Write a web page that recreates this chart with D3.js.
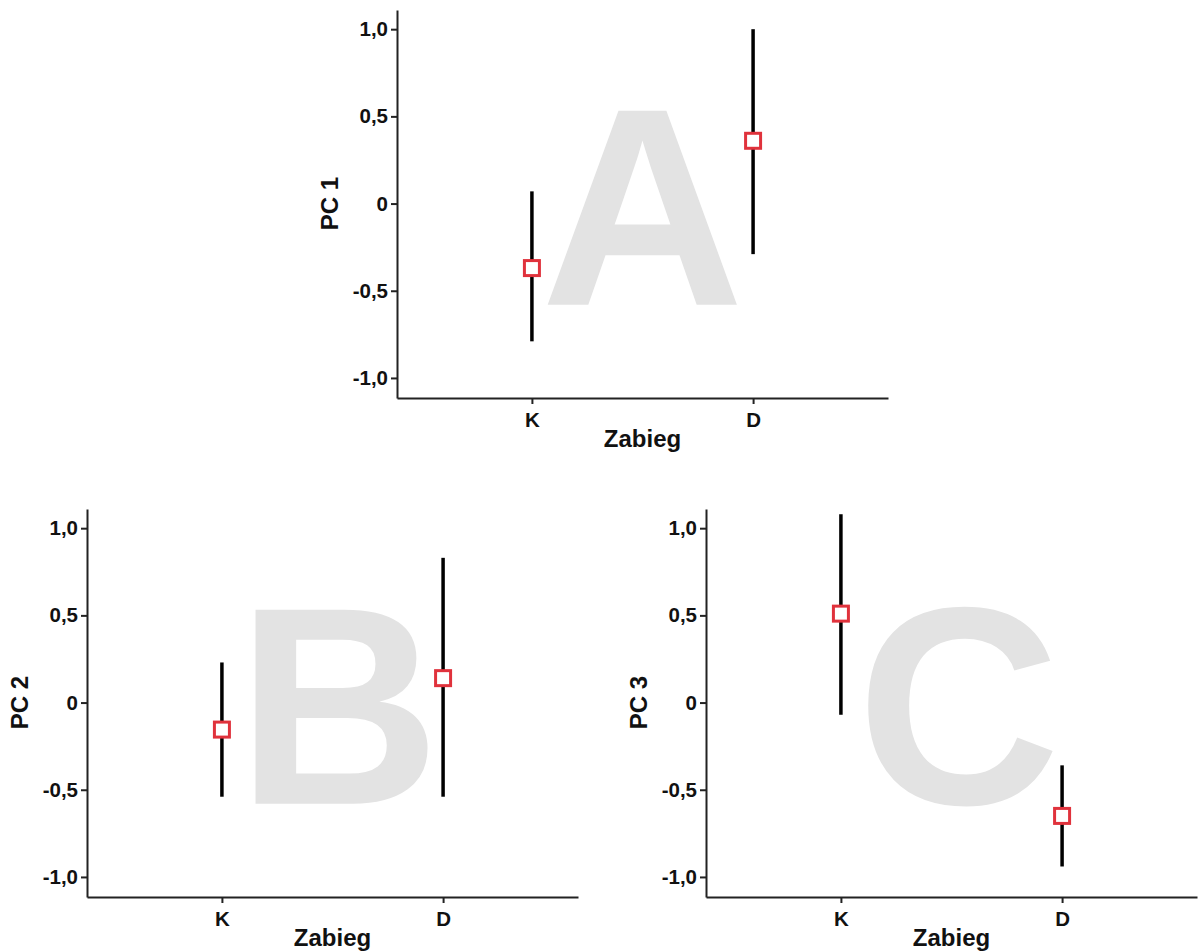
<!DOCTYPE html>
<html lang="pl">
<head>
<meta charset="UTF-8">
<title>PC 1-3 vs Zabieg</title>
<script src="https://d3js.org/d3.v7.min.js"></script>
<style>
    body { margin: 0; padding: 0; background: #fff; }
    svg { display: block; font-family: "Liberation Sans", Arial, sans-serif; }
    .axis path, .axis line { stroke: #222; stroke-width: 2px; }
    .axis text { font-size: 20.5px; font-weight: bold; fill: #111; }
    .ttl { font-size: 24px; font-weight: bold; fill: #111; }
    .letter { font-size: 282px; font-weight: bold; fill: #e3e3e3; }
</style>
</head>
<body>
<svg width="1198" height="951"></svg>
<script>
// dane
const categories = ["K", "D"];
const yTicks = [-1, -0.5, 0, 0.5, 1];

const pc1Mean = [-0.37, 0.36];
const pc1Low  = [-0.79, -0.29];
const pc1High = [0.07, 1.00];

const pc2Mean = [-0.155, 0.14];
const pc2Low  = [-0.54, -0.54];
const pc2High = [0.23, 0.83];

const pc3Mean = [0.51, -0.65];
const pc3Low  = [-0.07, -0.94];
const pc3High = [1.08, -0.36];

const svg = d3.select("svg");
const W = 491, H = 388;

// przecinek dziesietny, zwykly minus
const fmt = d => d === 0 ? "0" : d3.format(".1f")(d).replace(".", ",").replace("\u2212", "-");

function drawPanel(left, top, letter, letterDx, yLabel, mean, low, high) {
    const g = svg.append("g").attr("transform", `translate(${left},${top})`);

    const x = d3.scalePoint().domain(categories).range([0, W]).padding(0.61);
    const y = d3.scaleLinear().domain([-1.115, 1.11]).range([H, 0]);

    // duza litera w tle
    g.append("text")
        .attr("class", "letter")
        .attr("x", W / 2 + letterDx)
        .attr("y", y(-0.58))
        .attr("text-anchor", "middle")
        .text(letter);

    g.append("g")
        .attr("class", "axis")
        .attr("transform", `translate(0,${H})`)
        .call(d3.axisBottom(x).tickSize(6).tickPadding(8).tickSizeOuter(0));

    g.append("g")
        .attr("class", "axis")
        .call(d3.axisLeft(y).tickValues(yTicks).tickFormat(fmt).tickSize(6).tickPadding(3).tickSizeOuter(0));

    const rows = categories.map((c, i) => ({ c, m: mean[i], lo: low[i], hi: high[i] }));

    g.selectAll(".err")
        .data(rows)
        .enter().append("line")
        .attr("class", "err")
        .attr("x1", d => x(d.c)).attr("x2", d => x(d.c))
        .attr("y1", d => y(d.lo)).attr("y2", d => y(d.hi))
        .attr("stroke", "#000")
        .attr("stroke-width", 3.5);

    const s = 15;
    g.selectAll(".mark")
        .data(rows)
        .enter().append("rect")
        .attr("class", "mark")
        .attr("x", d => x(d.c) - s / 2)
        .attr("y", d => y(d.m) - s / 2)
        .attr("width", s).attr("height", s)
        .attr("fill", "#fff")
        .attr("stroke", "#e0323c")
        .attr("stroke-width", 3);

    g.append("text")
        .attr("class", "ttl")
        .attr("x", W / 2)
        .attr("y", H + 49)
        .attr("text-anchor", "middle")
        .text("Zabieg");

    g.append("text")
        .attr("class", "ttl")
        .attr("transform", `translate(-59,${y(0)}) rotate(-90)`)
        .attr("text-anchor", "middle")
        .text(yLabel);
}

drawPanel(397, 10, "A", 0, "PC 1", pc1Mean, pc1Low, pc1High);
drawPanel(87, 509, "B", 6, "PC 2", pc2Mean, pc2Low, pc2High);
drawPanel(706, 509, "C", 7, "PC 3", pc3Mean, pc3Low, pc3High);
</script>
</body>
</html>
